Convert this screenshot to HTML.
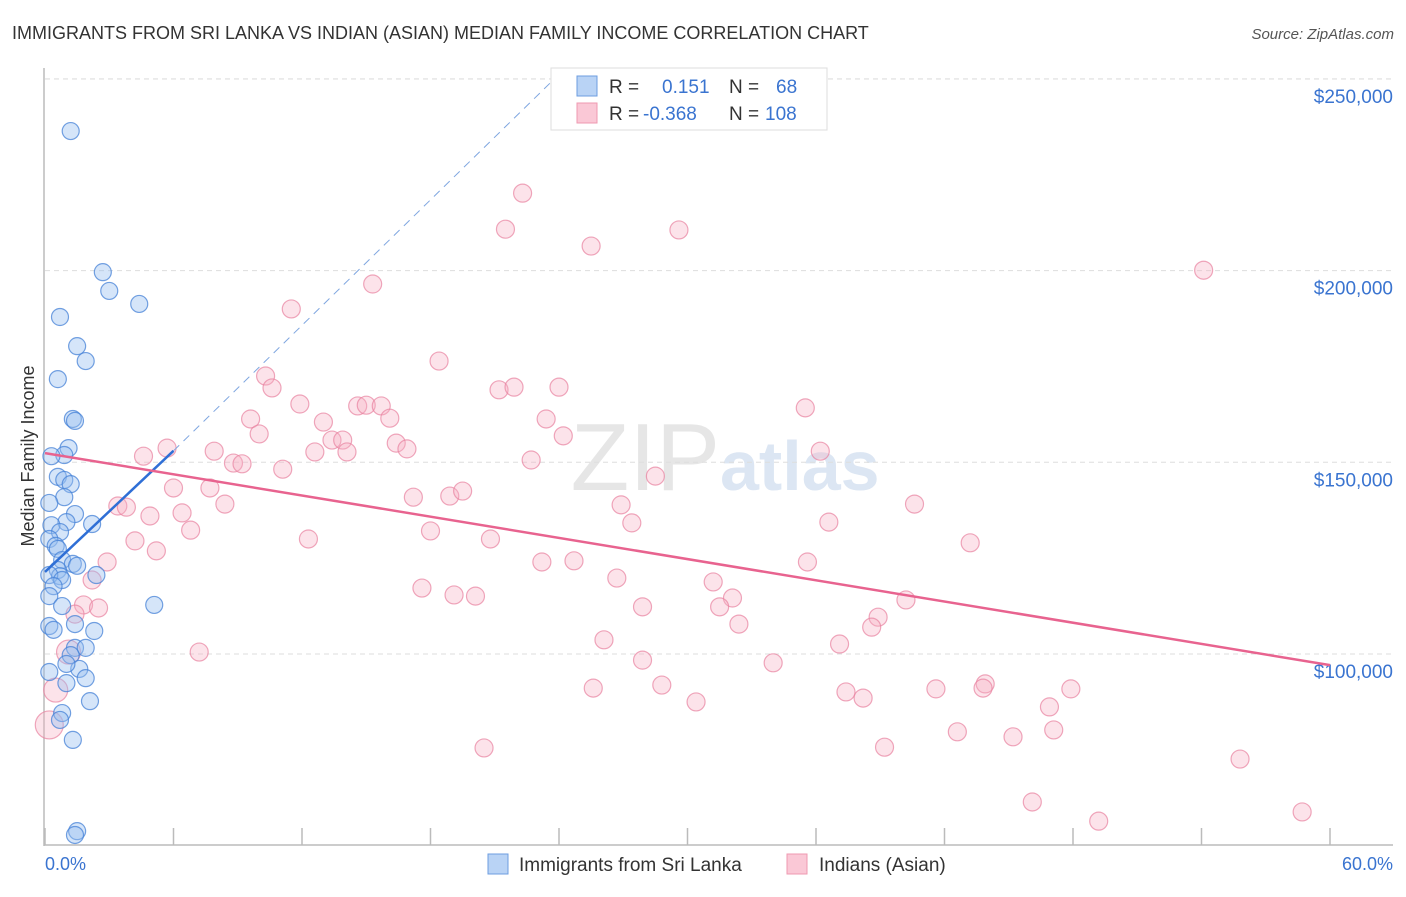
<!DOCTYPE html>
<html><head><meta charset="utf-8"><style>
body{margin:0;background:#fff;font-family:"Liberation Sans",sans-serif;}
svg text{font-family:"Liberation Sans",sans-serif;}
</style></head><body>
<svg id="c" width="1406" height="892">
<text x="12" y="39" font-size="18" fill="#333">IMMIGRANTS FROM SRI LANKA VS INDIAN (ASIAN) MEDIAN FAMILY INCOME CORRELATION CHART</text>
<text x="1394" y="39" font-size="15" fill="#555" font-style="italic" text-anchor="end">Source: ZipAtlas.com</text>
<text x="720" y="490" font-size="96" fill="#e6e6e6" text-anchor="end" font-family="Liberation Serif">ZIP</text>
<text x="720" y="490" font-size="70" fill="#dce6f3" font-weight="bold">atlas</text>
<g id="grid"></g>
<g id="marks"></g>
<g id="lines"></g>
<text transform="translate(34,456) rotate(-90)" font-size="18" fill="#333" text-anchor="middle">Median Family Income</text>
<text x="45" y="870" font-size="18" fill="#3a74d0">0.0%</text>
<text x="1393" y="870" font-size="18" fill="#3a74d0" text-anchor="end">60.0%</text>
<g>
<rect x="551" y="68" width="276" height="62" fill="#fff" stroke="#ddd"/>
<rect x="577" y="76" width="20" height="20" fill="#b9d3f5" stroke="#6d9ee0"/>
<rect x="577" y="103" width="20" height="20" fill="#fac8d6" stroke="#ef99b0"/>
<text x="609" y="93" font-size="19" fill="#333">R =</text>
<text x="662" y="93" font-size="19" fill="#3a74d0">0.151</text>
<text x="729" y="93" font-size="19" fill="#333">N =</text>
<text x="776" y="93" font-size="19" fill="#3a74d0">68</text>
<text x="609" y="120" font-size="19" fill="#333">R =</text>
<text x="643" y="120" font-size="19" fill="#3a74d0">-0.368</text>
<text x="729" y="120" font-size="19" fill="#333">N =</text>
<text x="765" y="120" font-size="19" fill="#3a74d0">108</text>
</g>
<g>
<rect x="488" y="854" width="20" height="20" fill="#b9d3f5" stroke="#6d9ee0"/>
<text x="519" y="871" font-size="19" fill="#333">Immigrants from Sri Lanka</text>
<rect x="787" y="854" width="20" height="20" fill="#fac8d6" stroke="#ef99b0"/>
<text x="819" y="871" font-size="19" fill="#333">Indians (Asian)</text>
</g>
</svg>
<script>
const yTicks=[100000,150000,200000,250000];
const yTickLabels=["$100,000","$150,000","$200,000","$250,000"];
const xTicks=[0,6,12,18,24,30,36,42,48,54,60];
const blueX=[1.2,2.7,3.0,4.4,0.7,1.5,1.9,0.6,1.3,1.4,1.1,0.9,0.3,0.6,0.9,1.2,0.9,0.2,1.4,1.0,2.2,0.3,0.7,0.2,0.5,0.6,0.8,1.3,1.5,0.6,0.7,0.2,2.4,0.8,0.4,0.2,0.8,5.1,0.2,0.4,2.3,1.4,1.4,1.9,1.2,1.6,1.0,0.2,1.9,1.0,2.1,0.8,0.7,1.3,1.5,1.4];
const blueY=[236.4,199.6,194.7,191.3,187.9,180.3,176.4,171.7,161.3,160.8,153.7,151.9,151.6,146.2,145.4,144.3,140.9,139.4,136.5,134.4,133.9,133.6,131.8,130.0,128.2,127.4,124.5,123.5,123.0,121.9,120.3,120.6,120.6,119.3,117.7,115.1,112.5,112.8,107.3,106.3,106.0,107.8,101.6,101.6,99.7,96.1,97.4,95.3,93.7,92.4,87.7,84.6,82.8,77.6,53.8,52.8];
const pinkX=[22.3,21.5,25.5,29.6,54.1,11.5,15.3,18.4,10.3,10.6,21.2,21.9,24.0,11.9,14.6,15.0,15.7,16.1,9.6,13.0,23.4,35.5,10.0,13.4,13.9,16.4,24.2,5.7,7.9,12.6,14.1,16.9,36.2,4.6,8.8,9.2,22.7,11.1,28.5,6.0,7.7,17.2,18.9,19.5,3.4,3.8,8.4,26.9,40.6,4.9,6.4,27.4,36.6,6.8,18.0,4.2,12.3,20.8,43.2,5.2,2.9,23.2,24.7,35.6,26.7,2.2,31.2,17.6,19.1,20.1,32.1,40.2,1.8,2.5,27.9,31.5,1.4,38.9,32.4,38.6,26.1,37.1,7.2,1.1,27.9,34.0,25.6,28.8,43.9,43.8,41.6,47.9,37.4,38.2,30.4,46.9,42.6,45.2,47.1,39.2,20.5,55.8,46.1,49.2,58.7,0.5,0.2];
const pinkY=[220.2,210.8,206.4,210.6,200.1,190,196.5,176.4,172.5,169.4,168.9,169.6,169.6,165.2,164.7,164.9,164.7,161.5,161.3,160.5,161.3,164.2,157.4,155.8,155.8,155.0,156.9,153.7,152.9,152.7,152.7,153.5,152.9,151.6,149.8,149.6,150.6,148.2,146.4,143.3,143.3,140.9,141.2,142.5,138.6,138.3,139.1,138.9,139.1,136.0,136.8,134.2,134.4,132.3,132.1,129.5,130.0,130.0,129.0,126.9,124.0,124.0,124.3,124.0,119.8,119.3,118.8,117.2,115.4,115.1,114.6,114.1,112.8,112.0,112.3,112.3,110.4,109.6,107.8,107.0,103.7,102.6,100.5,100.5,98.4,97.7,91.1,91.9,92.2,91.1,90.9,90.9,90.1,88.5,87.5,86.2,79.7,78.4,80.2,75.7,75.5,72.6,61.4,56.4,58.8,90.6,81.5];
const blueTrend=[0,121.4,6,153.0,23.6,249];
const pinkTrend=[0,152.4,60,97.1];
const NS="http://www.w3.org/2000/svg";
const xs=p=>45+p*(1330-45)/60;
const ys=v=>654-(v-100000)*191.7/50000;
const yk=k=>ys(k*1000);
function mk(tag,attrs,parent){const e=document.createElementNS(NS,tag);for(const k in attrs)e.setAttribute(k,attrs[k]);parent.appendChild(e);return e;}
const grid=document.getElementById('grid'),marks=document.getElementById('marks'),lines=document.getElementById('lines');
yTicks.forEach((t,i)=>{
 const l=mk('line',{x1:45,x2:1393,y1:ys(t),y2:ys(t),stroke:'#ddd','stroke-dasharray':'5,4'},grid);
 
 
 const tx=mk('text',{x:1393,y:ys(t)+24,'font-size':19,fill:'#3a74d0','text-anchor':'end'},grid);
 tx.textContent=yTickLabels[i];
 
 
});
const topg=mk('line',{x1:45,x2:1393,y1:79,y2:79,stroke:'#ddd','stroke-dasharray':'5,4'},grid);
const ya=mk('line',{x1:44,x2:44,y1:68,y2:846,stroke:'#bbb','stroke-width':1.5},grid);


const xa=mk('line',{x1:44,x2:1393,y1:845,y2:845,stroke:'#bbb','stroke-width':1.5},grid);


xTicks.forEach(t=>{
 const l=mk('line',{x1:xs(t),x2:xs(t),y1:828,y2:845,stroke:'#bbb','stroke-width':1.5},grid);
 
 
});
pinkX.forEach((x,i)=>{
 const big=x<1.2&&pinkY[i]<102;
 const c=mk('circle',{cx:xs(x),cy:yk(pinkY[i]),r:big?(pinkY[i]<85?14:12):9,fill:'rgba(246,176,196,0.35)',stroke:'rgba(232,130,160,0.7)','stroke-width':1.2},marks);
 
 
});
blueX.forEach((x,i)=>{
 const c=mk('circle',{cx:xs(x),cy:yk(blueY[i]),r:8.5,fill:'rgba(150,190,240,0.4)',stroke:'rgba(70,130,215,0.75)','stroke-width':1.2},marks);
 
 
});
const bl=mk('line',{x1:xs(blueTrend[0]),y1:yk(blueTrend[1]),x2:xs(blueTrend[2]),y2:yk(blueTrend[3]),stroke:'#2f6fd6','stroke-width':2.5},lines);


const bd=mk('line',{x1:xs(blueTrend[2]),y1:yk(blueTrend[3]),x2:xs(blueTrend[4]),y2:yk(blueTrend[5]),stroke:'#7fa6e0','stroke-width':1,'stroke-dasharray':'8,6'},lines);


const pl=mk('line',{x1:xs(pinkTrend[0]),y1:yk(pinkTrend[1]),x2:xs(pinkTrend[2]),y2:yk(pinkTrend[3]),stroke:'#e8638f','stroke-width':2.5},lines);


</script>
</body></html>
